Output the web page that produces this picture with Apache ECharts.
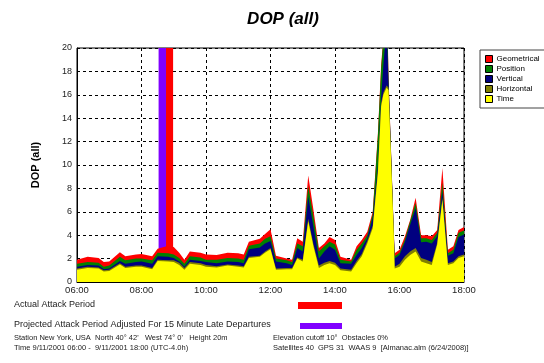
<!DOCTYPE html>
<html>
<head>
<meta charset="utf-8">
<script src="https://cdn.jsdelivr.net/npm/echarts@6/dist/echarts.min.js"></script>
<style>
  html, body { margin: 0; padding: 0; background: #fff; }
  #dop { width: 544px; height: 363px; }
</style>
</head>
<body>
<div id="dop"></div>
<script>
// time of day in hours, 06:00 .. 18:00
var times = [6.0, 6.33, 6.67, 6.83, 7.0, 7.33, 7.5, 7.83, 8.0, 8.33, 8.5, 8.83, 9.0, 9.17, 9.33, 9.5, 9.83,
  10.0, 10.33, 10.67, 11.0, 11.17, 11.33, 11.67, 11.83, 12.0, 12.17, 12.5, 12.67, 12.83, 13.0, 13.17, 13.33,
  13.5, 13.67, 13.83, 14.0, 14.17, 14.5, 14.67, 14.83, 15.0, 15.17, 15.33, 15.43, 15.5, 15.6, 15.66, 15.82,
  15.85, 16.0, 16.17, 16.33, 16.5, 16.67, 16.83, 17.0, 17.17, 17.33, 17.5, 17.67, 17.83, 18.0];

var geometrical = [1.9, 2.15, 2.05, 1.7, 1.75, 2.55, 2.2, 2.35, 2.4, 2.2, 2.85, 3.1, 3.0, 2.5, 1.9, 2.6, 2.5,
  2.35, 2.3, 2.5, 2.45, 2.35, 3.45, 3.7, 4.1, 4.5, 2.25, 2.0, 1.9, 3.75, 3.45, 9.1, 6.2,
  2.9, 3.3, 3.85, 3.6, 2.15, 1.9, 3.05, 3.6, 4.3, 6.0, 12.7, 18.5, 21, 26, 17.5, 4.6,
  2.45, 2.75, 3.9, 5.3, 7.2, 4.0, 4.0, 3.9, 4.45, 9.75, 2.75, 3.05, 4.45, 4.7];

var position = [1.55, 1.7, 1.65, 1.3, 1.4, 2.15, 1.85, 2.0, 2.0, 1.85, 2.5, 2.45, 2.35, 2.05, 1.55, 2.2, 2.1,
  1.9, 1.9, 2.05, 2.0, 1.9, 3.1, 3.3, 3.7, 3.9, 2.0, 1.85, 1.7, 3.3, 3.05, 8.2, 5.6,
  2.6, 3.05, 3.45, 3.2, 1.9, 1.75, 2.75, 3.3, 4.0, 5.8, 12.5, 18.2, 20.8, 25, 17.3, 4.5,
  2.2, 2.5, 3.65, 5.2, 6.75, 3.75, 3.75, 3.6, 4.2, 8.5, 2.45, 2.75, 4.2, 4.4];

var vertical = [1.3, 1.45, 1.4, 1.1, 1.15, 1.8, 1.55, 1.7, 1.75, 1.55, 2.2, 2.15, 2.05, 1.75, 1.3, 1.9, 1.8,
  1.7, 1.6, 1.75, 1.7, 1.6, 2.8, 2.95, 3.3, 3.5, 1.75, 1.6, 1.45, 2.9, 2.6, 7.3, 4.75,
  2.0, 2.6, 3.05, 2.75, 1.6, 1.55, 2.3, 2.9, 3.75, 5.5, 10.0, 15.8, 18.5, 22, 17.0, 4.4,
  2.0, 2.3, 3.45, 4.9, 6.3, 3.4, 3.45, 3.3, 3.9, 7.75, 2.25, 2.45, 3.85, 4.05];

var horizontal = [1.15, 1.3, 1.25, 1.0, 1.05, 1.6, 1.3, 1.4, 1.4, 1.2, 1.9, 1.85, 1.85, 1.65, 1.2, 1.7, 1.6,
  1.45, 1.35, 1.5, 1.4, 1.35, 2.15, 2.25, 2.6, 2.9, 1.15, 1.2, 1.2, 2.1, 1.9, 5.4, 3.25,
  1.4, 1.65, 1.8, 1.65, 1.15, 1.05, 1.8, 2.4, 3.5, 4.8, 9.6, 15.3, 16.2, 16.8, 16.6, 4.3,
  1.3, 1.55, 2.2, 2.6, 2.9, 2.05, 1.9, 1.7, 3.35, 7.2, 1.6, 1.75, 2.2, 2.35];

var timeDop = [1.05, 1.2, 1.15, 0.9, 0.95, 1.5, 1.2, 1.3, 1.3, 1.1, 1.8, 1.75, 1.7, 1.45, 1.05, 1.55, 1.45,
  1.3, 1.25, 1.4, 1.3, 1.25, 2.05, 2.15, 2.5, 2.8, 1.05, 1.1, 1.1, 2.0, 1.75, 5.2, 3.05,
  1.2, 1.45, 1.6, 1.45, 1.0, 0.9, 1.6, 2.2, 3.3, 4.6, 9.3, 15.0, 16.0, 16.6, 16.4, 4.2,
  1.15, 1.3, 1.9, 2.3, 2.6, 1.75, 1.6, 1.45, 3.2, 7.0, 1.45, 1.6, 2.05, 2.2];

var seriesNames = ['Geometrical', 'Position', 'Vertical', 'Horizontal', 'Time'];
var seriesColors = ['#ff0000', '#008000', '#000080', '#808000', '#ffff00'];

// attack periods, hours
var projectedPeriod = [8.53, 8.76];
var actualPeriod = [8.76, 8.98];

function pairs(vals) {
  var out = [];
  for (var i = 0; i < times.length; i++) out.push([times[i], vals[i]]);
  return out;
}

function hhmm(v) {
  return (v < 10 ? '0' : '') + v + ':00';
}

var allValues = [geometrical, position, vertical, horizontal, timeDop];
var series = [];

// dummy series that only carries the attack bars, drawn under everything
series.push({
  type: 'line',
  data: [],
  z: 1,
  silent: true,
  markArea: {
    silent: true,
    data: [
      [{ xAxis: projectedPeriod[0], yAxis: 0, itemStyle: { color: '#8000ff', opacity: 1 } }, { xAxis: projectedPeriod[1], yAxis: 20 }],
      [{ xAxis: actualPeriod[0], yAxis: 0, itemStyle: { color: '#ff0000', opacity: 1 } }, { xAxis: actualPeriod[1], yAxis: 20 }]
    ]
  }
});

for (var k = 0; k < seriesNames.length; k++) {
  series.push({
    name: seriesNames[k],
    type: 'line',
    data: pairs(allValues[k]),
    showSymbol: false,
    symbol: 'none',
    z: 2 + k,
    color: seriesColors[k],
    lineStyle: { width: 0 },
    areaStyle: { color: seriesColors[k], opacity: 1 },
    silent: true,
    animation: false
  });
}

var option = {
  animation: false,
  title: {
    text: 'DOP (all)',
    left: 278,
    top: 6,
    textAlign: 'center',
    textStyle: { fontFamily: 'Liberation Sans', fontSize: 17, fontWeight: 'bold', fontStyle: 'italic', color: '#000' }
  },
  legend: {
    data: seriesNames,
    orient: 'vertical',
    left: 480,
    top: 50,
    icon: 'rect',
    itemWidth: 7,
    itemHeight: 7,
    itemGap: 2,
    padding: [5, 20, 5, 5],
    borderColor: '#444',
    borderWidth: 1,
    itemStyle: { borderColor: '#000', borderWidth: 1 },
    textStyle: { fontFamily: 'Liberation Sans', fontSize: 8, color: '#000', padding: [0, 0, 0, -1] }
  },
  grid: {
    left: 77,
    right: 80,
    top: 48,
    bottom: 81,
    show: true,
    borderColor: '#000',
    borderWidth: 1
  },
  xAxis: {
    type: 'value',
    min: 6,
    max: 18,
    interval: 2,
    axisLine: { lineStyle: { color: '#000' } },
    axisTick: { show: false },
    axisLabel: { formatter: hhmm, fontFamily: 'Liberation Sans', fontSize: 9.5, color: '#222', margin: 3 },
    splitLine: { lineStyle: { color: '#000', type: [3, 3], width: 1 } }
  },
  yAxis: {
    type: 'value',
    min: 0,
    max: 20,
    interval: 2,
    name: 'DOP (all)',
    nameLocation: 'middle',
    nameGap: 36,
    nameTextStyle: { fontFamily: 'Liberation Sans', fontSize: 11, fontWeight: 'bold', color: '#000' },
    axisLine: { show: true, lineStyle: { color: '#000' } },
    axisTick: { show: false },
    axisLabel: { fontFamily: 'Liberation Sans', fontSize: 9, color: '#222', margin: 5 },
    splitLine: { lineStyle: { color: '#000', type: [3, 3], width: 1 } }
  },
  graphic: [
    { type: 'text', left: 14, top: 300, style: { text: 'Actual Attack Period', font: '9px "Liberation Sans"', fill: '#222' } },
    { type: 'rect', shape: { x: 298, y: 302, width: 44, height: 7 }, style: { fill: '#ff0000' } },
    { type: 'text', left: 14, top: 320, style: { text: 'Projected Attack Period Adjusted For 15 Minute Late Departures', font: '9px "Liberation Sans"', fill: '#222' } },
    { type: 'rect', shape: { x: 300, y: 323, width: 42, height: 6 }, style: { fill: '#8000ff' } },
    { type: 'text', left: 14, top: 334, style: { text: "Station New York, USA  North 40\u00b0 42'   West 74\u00b0 0'   Height 20m", font: '7.5px "Liberation Sans"', fill: '#222' } },
    { type: 'text', left: 14, top: 344, style: { text: 'Time 9/11/2001 06:00 -  9/11/2001 18:00 (UTC-4.0h)', font: '7.5px "Liberation Sans"', fill: '#222' } },
    { type: 'text', left: 273, top: 334, style: { text: 'Elevation cutoff 10\u00b0  Obstacles 0%', font: '7.5px "Liberation Sans"', fill: '#222' } },
    { type: 'text', left: 273, top: 344, style: { text: 'Satellites 40  GPS 31  WAAS 9  [Almanac.alm (6/24/2008)]', font: '7.5px "Liberation Sans"', fill: '#222' } }
  ],
  series: series
};

var chartDop = echarts.init(document.getElementById('dop'));
chartDop.setOption(option);
</script>
</body>
</html>
